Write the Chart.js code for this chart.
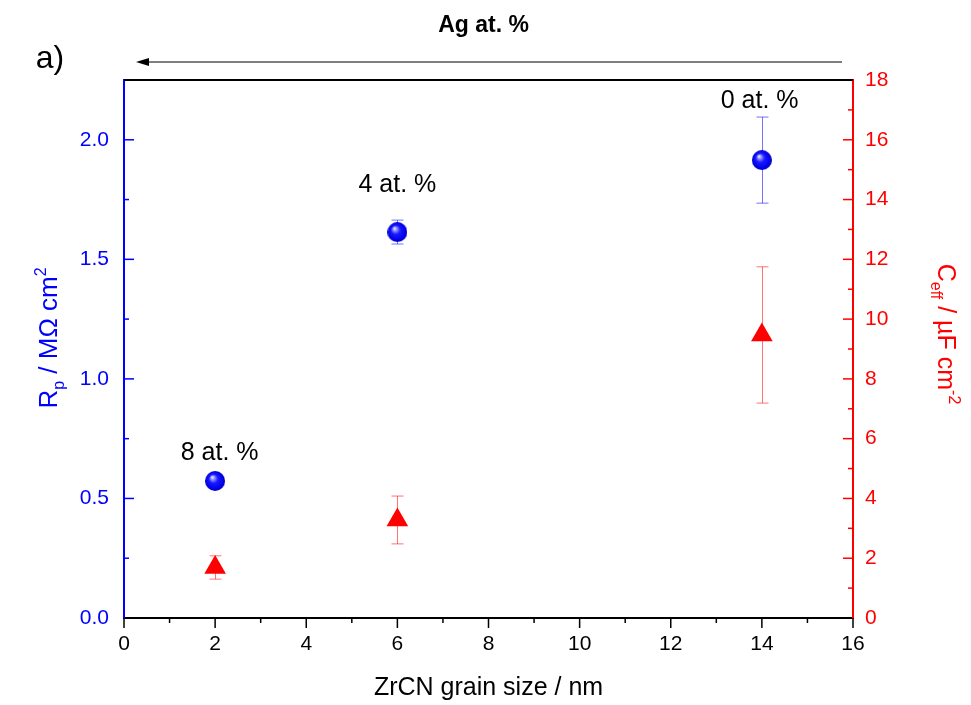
<!DOCTYPE html>
<html>
<head>
<meta charset="utf-8">
<script src="https://cdn.jsdelivr.net/npm/chart.js@4.4.0/dist/chart.umd.min.js"></script>
<style>
  html, body { margin: 0; padding: 0; background: #fff; }
  #wrap { width: 971px; height: 705px; }
</style>
</head>
<body>
<div id="wrap"><canvas id="chart" width="971" height="705"></canvas></div>
<script>
// data
const grainSize = [2, 6, 14];                 // nm
const rp = [0.573, 1.614, 1.915];              // MOhm cm2
const rpErr = [0, 0.05, 0.18];
const ceff = [1.69, 3.28, 9.47];               // uF cm-2
const ceffErr = [0.39, 0.80, 2.28];
const agLabels = ['8 at. %', '4 at. %', '0 at. %'];
const agLabelX = [2.1, 6.0, 13.95];
const agLabelY = [0.69, 1.81, 2.16];           // on Rp axis

const BLUE = '#0000ff';
const RED = '#ff0000';
const FONT = '"Liberation Sans", Arial, sans-serif';

// shiny blue ball marker
function makeSphere(r) {
  const c = document.createElement('canvas');
  c.width = c.height = r * 2;
  const g = c.getContext('2d');
  const grad = g.createRadialGradient(r * 0.7, r * 0.6, 0, r, r, r);
  grad.addColorStop(0, '#ffffff');
  grad.addColorStop(0.18, '#9a9aff');
  grad.addColorStop(0.45, '#1a1aff');
  grad.addColorStop(0.85, '#0000ee');
  grad.addColorStop(1, '#0000b0');
  g.fillStyle = grad;
  g.beginPath();
  g.arc(r, r, r, 0, Math.PI * 2);
  g.fill();
  return c;
}

// text with sub/superscripts, centered at (x, y), rotated
function drawRich(ctx, parts, x, y, rot, color) {
  ctx.save();
  ctx.translate(x, y);
  ctx.rotate(rot);
  ctx.fillStyle = color;
  ctx.textBaseline = 'alphabetic';
  ctx.textAlign = 'left';
  let total = 0;
  parts.forEach(p => { ctx.font = p.size + 'px ' + FONT; total += ctx.measureText(p.t).width; });
  let cx = -total / 2;
  parts.forEach(p => {
    ctx.font = p.size + 'px ' + FONT;
    ctx.fillText(p.t, cx, p.dy);
    cx += ctx.measureText(p.t).width;
  });
  ctx.restore();
}

const decorations = {
  id: 'decorations',
  beforeDatasetsDraw(chart) {
    // error bars
    const ctx = chart.ctx;
    const xs = chart.scales.x;
    const bars = [
      { vals: rp, err: rpErr, axis: chart.scales.y, color: 'rgba(0,0,255,0.55)' },
      { vals: ceff, err: ceffErr, axis: chart.scales.y1, color: 'rgba(255,0,0,0.55)' }
    ];
    ctx.save();
    ctx.lineWidth = 1;
    bars.forEach(b => {
      ctx.strokeStyle = b.color;
      grainSize.forEach((gx, i) => {
        if (!b.err[i]) return;
        const px = Math.round(xs.getPixelForValue(gx)) + 0.5;
        const top = b.axis.getPixelForValue(b.vals[i] + b.err[i]);
        const bot = b.axis.getPixelForValue(b.vals[i] - b.err[i]);
        ctx.beginPath();
        ctx.moveTo(px, top); ctx.lineTo(px, bot);
        ctx.moveTo(px - 6, top); ctx.lineTo(px + 6, top);
        ctx.moveTo(px - 6, bot); ctx.lineTo(px + 6, bot);
        ctx.stroke();
      });
    });
    ctx.restore();
  },
  afterDraw(chart) {
    const ctx = chart.ctx;
    const a = chart.chartArea;
    const xs = chart.scales.x, ys = chart.scales.y, ys1 = chart.scales.y1;
    ctx.save();

    // top frame line
    ctx.strokeStyle = '#000';
    ctx.lineWidth = 2;
    ctx.beginPath();
    ctx.moveTo(a.left, a.top); ctx.lineTo(a.right, a.top);
    ctx.stroke();

    // tick marks (major + minor)
    ctx.lineWidth = 1.5;
    ctx.strokeStyle = '#000';
    for (let v = 0; v <= 16; v += 1) {
      const px = xs.getPixelForValue(v);
      const len = v % 2 === 0 ? 10 : 5;
      ctx.beginPath(); ctx.moveTo(px, a.bottom); ctx.lineTo(px, a.bottom + len); ctx.stroke();
    }
    ctx.strokeStyle = BLUE;
    for (let k = 1; k <= 8; k++) {
      const py = ys.getPixelForValue(k * 0.25);
      const len = k % 2 === 0 ? 10 : 5;
      ctx.beginPath(); ctx.moveTo(a.left, py); ctx.lineTo(a.left + len, py); ctx.stroke();
    }
    ctx.strokeStyle = RED;
    for (let v = 1; v < 18; v++) {
      const py = ys1.getPixelForValue(v);
      const len = v % 2 === 0 ? 10 : 5;
      ctx.beginPath(); ctx.moveTo(a.right, py); ctx.lineTo(a.right - len, py); ctx.stroke();
    }

    // Ag content labels
    ctx.fillStyle = '#000';
    ctx.font = '25px ' + FONT;
    ctx.textAlign = 'center';
    ctx.textBaseline = 'middle';
    agLabels.forEach((t, i) => {
      ctx.fillText(t, xs.getPixelForValue(agLabelX[i]), ys.getPixelForValue(agLabelY[i]));
    });

    // arrow on top: Ag content grows to the left
    const ay = a.top - 18;
    ctx.strokeStyle = '#000';
    ctx.lineWidth = 1;
    ctx.beginPath();
    ctx.moveTo(a.right - 11, ay); ctx.lineTo(a.left + 20, ay);
    ctx.stroke();
    ctx.beginPath();
    ctx.moveTo(a.left + 12, ay);
    ctx.lineTo(a.left + 25, ay - 4);
    ctx.lineTo(a.left + 25, ay + 4);
    ctx.closePath();
    ctx.fill();

    const midX = (a.left + a.right) / 2;
    ctx.font = 'bold 23px ' + FONT;
    ctx.fillText('Ag at. %', midX - 5, 26);

    ctx.font = '32px ' + FONT;
    ctx.fillText('a)', 50, 59);

    ctx.font = '25px ' + FONT;
    ctx.fillText('ZrCN grain size / nm', midX, 688);
    ctx.restore();

    // axis titles
    drawRich(ctx, [
      { t: 'R', size: 26, dy: 0 },
      { t: 'p', size: 16, dy: 7 },
      { t: ' / M\u03A9 cm', size: 26, dy: 0 },
      { t: '2', size: 16, dy: -11 }
    ], 57, 338, -Math.PI / 2, BLUE);
    drawRich(ctx, [
      { t: 'C', size: 25, dy: 0 },
      { t: 'eff', size: 16, dy: 7 },
      { t: ' / \u00B5F cm', size: 25, dy: 0 },
      { t: '-2', size: 16, dy: -11 }
    ], 938, 334, Math.PI / 2, RED);
  }
};

new Chart(document.getElementById('chart'), {
  type: 'scatter',
  data: {
    datasets: [
      {
        label: 'Rp',
        data: grainSize.map((x, i) => ({ x, y: rp[i] })),
        yAxisID: 'y',
        pointStyle: makeSphere(10),
        pointRadius: 10
      },
      {
        label: 'Ceff',
        data: grainSize.map((x, i) => ({ x, y: ceff[i] })),
        yAxisID: 'y1',
        pointStyle: 'triangle',
        pointRadius: 12.5,
        backgroundColor: RED,
        borderColor: RED,
        borderWidth: 0
      }
    ]
  },
  options: {
    responsive: false,
    animation: false,
    layout: { padding: { top: 80, left: 0, right: 0, bottom: 0 } },
    scales: {
      x: {
        type: 'linear', position: 'bottom', min: 0, max: 16,
        afterFit: s => { s.height = 87; },
        grid: { display: false, drawTicks: false },
        border: { display: true, color: '#000', width: 2 },
        ticks: { stepSize: 2, padding: 14, color: '#000', font: { family: FONT, size: 21 } }
      },
      y: {
        type: 'linear', position: 'left', min: 0, max: 2.25,
        afterFit: s => { s.width = 124; },
        afterBuildTicks: s => { s.ticks = s.ticks.filter(t => Math.abs(t.value * 2 - Math.round(t.value * 2)) < 1e-6); },
        grid: { display: false, drawTicks: false },
        border: { display: true, color: BLUE, width: 2 },
        ticks: { stepSize: 0.5, padding: 15, color: BLUE, font: { family: FONT, size: 21 }, callback: v => v.toFixed(1) }
      },
      y1: {
        type: 'linear', position: 'right', min: 0, max: 18,
        afterFit: s => { s.width = 118; },
        grid: { display: false, drawTicks: false },
        border: { display: true, color: RED, width: 2 },
        ticks: { stepSize: 2, padding: 12, color: RED, font: { family: FONT, size: 21 } }
      }
    },
    plugins: {
      legend: { display: false },
      tooltip: { enabled: false }
    }
  },
  plugins: [decorations]
});
</script>
</body>
</html>
